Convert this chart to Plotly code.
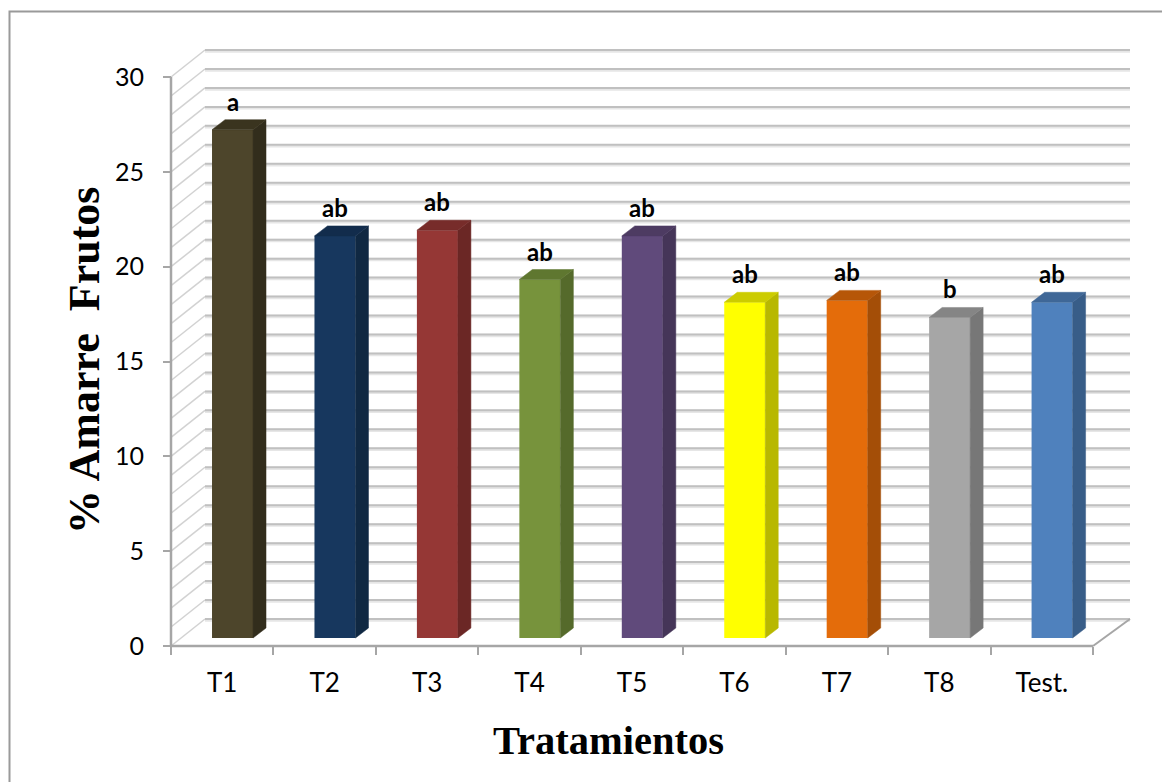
import plotly.graph_objects as go

# Chart data
categories = ["T1", "T2", "T3", "T4", "T5", "T6", "T7", "T8", "Test."]
amarre = [26.8, 21.2, 21.5, 18.9, 21.2, 17.7, 17.8, 16.9, 17.7]
letters = ["a", "ab", "ab", "ab", "ab", "ab", "ab", "b", "ab"]
front_colors = ["#4D452B", "#17375E", "#953735", "#77933C", "#604A7B", "#FFFF00", "#E46C0A", "#A6A6A6", "#4F81BD"]
side_colors = ["#322D1C", "#102842", "#6B2725", "#556A2B", "#453558", "#B8B800", "#A44E07", "#777777", "#385D88"]
top_colors = ["#3A341F", "#122C4C", "#772C2A", "#5F7730", "#4D3B62", "#CCCC00", "#B65608", "#858585", "#3F6797"]
y_ticks = [0, 5, 10, 15, 20, 25, 30]
grid_levels = list(range(0, 31))

W, H = 1162, 782
# Axis anchor lines on the page (pixels)
AX_LEFT, AX_BOTTOM = 171, 646
PER_CAT = (1093 - 171) / 9
PER_UNIT = (646 - 77) / 30
# Plot area is a little larger than the drawn walls so their edges are not clipped
PX_LEFT, PX_RIGHT, PX_BOTTOM, PX_TOP = 160, 1140, 660, 40

# Oblique projection offsets, in axis units
wall_dx_left = 34 / PER_CAT
wall_dx_right = 37 / PER_CAT
wall_dy = 27 / PER_UNIT
bar_dx = 13 / PER_CAT
bar_dy = 10 / PER_UNIT
bar_lift = 8 / PER_UNIT
bar_shift = 10.3 / PER_CAT
bar_width = 41 / PER_CAT

x_lo, x_hi = -0.5, 8.5
idx = list(range(len(categories)))
centers = [i + bar_shift for i in idx]

fig = go.Figure()


def line(xs, ys, color, width, front=False):
    fig.add_trace(go.Scatter(x=xs, y=ys, mode="lines", xaxis="x2" if front else "x",
                             yaxis="y2" if front else "y",
                             line=dict(color=color, width=width), hoverinfo="skip",
                             showlegend=False))


def face(xs, ys, color):
    fig.add_trace(go.Scatter(x=xs, y=ys, mode="lines", fill="toself", fillcolor=color,
                             xaxis="x2", yaxis="y2",
                             line=dict(color=color, width=0.5), hoverinfo="skip",
                             showlegend=False))


# Back wall and side wall gridlines, with a soft shadow under each back line
for lv in grid_levels:
    line([x_lo, x_lo + wall_dx_left], [lv, lv + wall_dy], "#D2D2D2", 1.5)
    line([x_lo + wall_dx_left, x_hi + wall_dx_right], [lv + wall_dy - 0.05, lv + wall_dy - 0.05], "#E6E6E6", 3.5)
    line([x_lo + wall_dx_left, x_hi + wall_dx_right], [lv + wall_dy, lv + wall_dy], "#C0C0C0", 2)

# Floor edge on the right
line([x_hi, x_hi + wall_dx_right], [0, wall_dy], "#A6A6A6", 2)

# Bar fronts
fig.add_trace(go.Bar(x=centers, y=amarre, base=bar_lift, width=bar_width, xaxis="x2", yaxis="y2",
                     marker=dict(color=front_colors, line=dict(width=0)),
                     hoverinfo="skip", showlegend=False))

# Bar side and top faces follow each bar's value
for c, v, sc, tc in zip(centers, amarre, side_colors, top_colors):
    xl, xr = c - bar_width / 2, c + bar_width / 2
    yt = v + bar_lift
    face([xr, xr + bar_dx, xr + bar_dx, xr, xr],
         [bar_lift, bar_lift + bar_dy, yt + bar_dy, yt, bar_lift], sc)
    face([xl, xr, xr + bar_dx, xl + bar_dx, xl],
         [yt, yt, yt + bar_dy, yt + bar_dy, yt], tc)

# Front axis lines
line([x_lo, x_hi], [0, 0], "#A6A6A6", 2.5, front=True)
line([x_lo, x_lo], [0, 30], "#A6A6A6", 2.5, front=True)

# Significance letters above the bars
for c, v, t in zip(centers, amarre, letters):
    fig.add_annotation(x=c, y=v + bar_lift + bar_dy, text=t, showarrow=False,
                       xref="x2", yref="y2", yanchor="bottom", yshift=2,
                       font=dict(family="Lato", size=24, color="#000000", weight="bold"))

# Axis titles
fig.add_annotation(x=608 / W, y=1 - 740 / H, xref="paper", yref="paper", text="<b>Tratamientos</b>",
                   xanchor="center", yanchor="middle", showarrow=False,
                   font=dict(family="Liberation Serif", size=40.5, color="#000000"))
fig.add_annotation(x=84 / W, y=1 - 361 / H, xref="paper", yref="paper", text="<b>% Amarre  Frutos</b>",
                   xanchor="center", yanchor="middle", textangle=-90, showarrow=False,
                   font=dict(family="Liberation Serif", size=44, color="#000000"))

x_range = [x_lo + (PX_LEFT - AX_LEFT) / PER_CAT, x_lo + (PX_RIGHT - AX_LEFT) / PER_CAT]
y_range = [(AX_BOTTOM - PX_BOTTOM) / PER_UNIT, (AX_BOTTOM - PX_TOP) / PER_UNIT]
dom_x = [PX_LEFT / W, PX_RIGHT / W]
dom_y = [1 - PX_BOTTOM / H, 1 - PX_TOP / H]
pos_x = 1 - AX_BOTTOM / H
pos_y = AX_LEFT / W

fig.update_layout(
    width=W, height=H, margin=dict(l=0, r=0, t=0, b=0, autoexpand=False),
    paper_bgcolor="#FFFFFF", plot_bgcolor="rgba(0,0,0,0)", showlegend=False,
    xaxis=dict(domain=dom_x, range=x_range, tickmode="array", tickvals=idx, ticktext=categories,
               ticks="", showgrid=False, zeroline=False, showline=False,
               tickfont=dict(family="Lato", size=26, color="#000000"),
               ticklabelstandoff=19, anchor="free", position=pos_x),
    xaxis2=dict(domain=dom_x, range=x_range, overlaying="x", anchor="free", position=pos_x, side="bottom",
                tickmode="array", tickvals=[i - 0.5 for i in range(10)], ticktext=[""] * 10,
                ticks="outside", ticklen=8, tickwidth=2, tickcolor="#A6A6A6",
                showgrid=False, zeroline=False, showline=False),
    yaxis=dict(domain=dom_y, range=y_range, tickmode="array", tickvals=y_ticks,
               ticks="outside", ticklen=8, tickwidth=2, tickcolor="#A6A6A6",
               showgrid=False, zeroline=False, showline=False, anchor="free", position=pos_y,
               ticklabelstandoff=14,
               tickfont=dict(family="Lato", size=25, color="#000000")),
    yaxis2=dict(domain=dom_y, range=y_range, overlaying="y", anchor="free", position=pos_y,
                showticklabels=False, ticks="", showgrid=False, zeroline=False, showline=False),
    shapes=[dict(type="rect", xref="paper", yref="paper", x0=9.5 / W, x1=1.01, y0=-0.01, y1=1 - 11.5 / H,
                 line=dict(color="#9A9A9A", width=2), layer="below")],
)

fig.write_html("out.html")
